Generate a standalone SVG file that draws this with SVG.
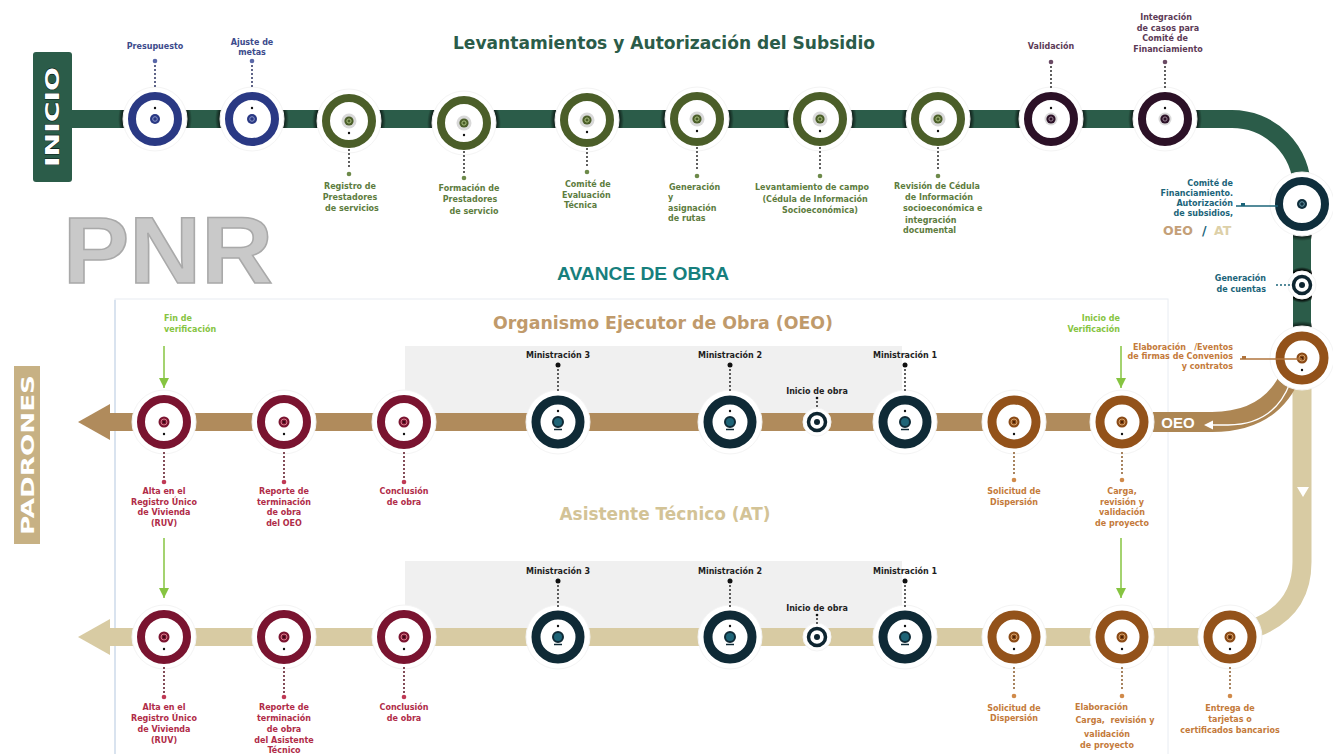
<svg xmlns="http://www.w3.org/2000/svg" width="1333" height="754" viewBox="0 0 1333 754">
<style>
.lbl{font-family:"DejaVu Sans",Verdana,sans-serif;font-weight:bold;font-size:8px;text-anchor:middle}
.st{text-anchor:start}
.en{text-anchor:end}
.navy{fill:#3d4b8c}.olive{fill:#5d7c3e}.purp{fill:#5c3a56}.teal{fill:#1b6479}.maroon{fill:#b02c48}.orange{fill:#c47a3a}.lime{fill:#86c441}.dark{fill:#1e1e1e}
.halo{fill:#fff;stroke:#f4f4f4;stroke-width:1}
.dots{fill:none;stroke-width:2;stroke-linecap:round;stroke-dasharray:0 4}
.title{font-family:"DejaVu Sans",Verdana,sans-serif;font-weight:bold;text-anchor:middle}
.garrow{stroke:#86c441;stroke-width:1.5;fill:none}
</style>
<defs>
<radialGradient id="shade"><stop offset="0.84" stop-color="#000" stop-opacity="0.85"/><stop offset="1" stop-color="#000" stop-opacity="0"/></radialGradient>
<clipPath id="greenClip"><rect x="72" y="110" width="1160" height="18"/><rect x="1293" y="189" width="19" height="160"/></clipPath>
<marker id="gArrow" viewBox="0 0 10 10" refX="10" refY="5" markerWidth="10" markerHeight="10" markerUnits="userSpaceOnUse" orient="auto"><path d="M0 0 L10 5 L0 10 Z" fill="#86c441"/></marker>
<g id="nvy"><circle class="halo" r="32"/><circle r="23" fill="#fff" stroke="#2a3984" stroke-width="8"/><circle r="5" fill="#2a3984"/><circle r="2.3" fill="none" stroke="#8a96c8" stroke-width="1"/><circle cy="-11" r="1.2" fill="#111"/></g>
<g id="olv"><circle class="halo" r="32"/><circle r="23" fill="#fff" stroke="#4b5e29" stroke-width="8"/><circle r="7.5" fill="#c9c9c9" opacity="0.7"/><circle r="4.6" fill="#4b5e29"/><circle r="2.1" fill="none" stroke="#a9bf80" stroke-width="1"/><circle cy="12" r="1.2" fill="#111"/></g>
<g id="prp"><circle class="halo" r="32"/><circle r="23" fill="#fff" stroke="#2c1127" stroke-width="8"/><circle r="6.5" fill="#c9c9c9" opacity="0.7"/><circle r="4.6" fill="#2c1127"/><circle r="2.1" fill="none" stroke="#9a8494" stroke-width="1"/><circle cy="-11" r="1.2" fill="#111"/></g>
<g id="tl"><circle class="halo" r="32"/><circle r="23" fill="#fff" stroke="#0f2e3c" stroke-width="8"/><circle r="5" fill="#0f2e3c"/><circle r="2.3" fill="none" stroke="#6a9aaa" stroke-width="1"/></g>
<g id="mrn"><circle class="halo" r="32"/><circle r="23" fill="#fff" stroke="#7a1430" stroke-width="8"/><circle r="5.5" fill="#7a1430"/><circle r="3" fill="none" stroke="#d87a8a" stroke-width="1"/><circle r="1.3" fill="#3a0a15"/><circle cy="12" r="1.2" fill="#111"/></g>
<g id="min"><circle class="halo" r="32"/><circle r="22" fill="#fff" stroke="#0f2a36" stroke-width="9"/><circle r="5" fill="#1e6477" stroke="#0f2a36" stroke-width="2"/><circle cy="-11" r="1.2" fill="#111"/><path d="M-4 7.5 H4" stroke="#0f2a36" stroke-width="1.5"/></g>
<g id="brn"><circle class="halo" r="32"/><circle r="22" fill="#fff" stroke="#93521a" stroke-width="9"/><circle r="5.5" fill="#8a4a16"/><circle r="3" fill="none" stroke="#d4a06a" stroke-width="1"/><circle r="1.2" fill="#4a2208"/><circle cy="12" r="1.2" fill="#111"/></g>
<g id="sm"><circle class="halo" r="14"/><circle r="8.5" fill="#fff" stroke="#0e2530" stroke-width="3.5"/><circle r="3" fill="#0e2530"/></g>
</defs>

<rect width="1333" height="754" fill="#fff"/>

<!-- background panels -->
<g id="panels">
<rect x="115" y="299" width="1053" height="470" fill="#fff" stroke="#e8ecf2" stroke-width="1"/>
<line x1="115" y1="300" x2="115" y2="754" stroke="#c8d7ea" stroke-width="1.2"/>
<rect x="405" y="346" width="497" height="67" fill="#f0f0f0"/>
<rect x="405" y="561" width="497" height="68" fill="#f0f0f0"/>
</g>

<!-- big labels -->
<g id="titles">
<text x="168" y="283" font-family="'Liberation Sans',Arial,sans-serif" font-weight="bold" font-size="94" fill="#c9c9c9" stroke="#a9a9a9" stroke-width="1.5" text-anchor="middle" textLength="210" lengthAdjust="spacingAndGlyphs">PNR</text>
<text class="title" x="664" y="49" font-size="17" fill="#2b5c49" textLength="422" lengthAdjust="spacingAndGlyphs">Levantamientos y Autorización del Subsidio</text>
<text x="643" y="280" font-family="'Liberation Sans',Arial,sans-serif" font-weight="bold" font-size="18" fill="#177f7d" text-anchor="middle" textLength="172" lengthAdjust="spacingAndGlyphs">AVANCE DE OBRA</text>
<text class="title" x="663" y="329" font-size="17" fill="#c09a6b" textLength="340" lengthAdjust="spacingAndGlyphs">Organismo Ejecutor de Obra (OEO)</text>
<text class="title" x="665" y="520" font-size="17" fill="#d3c396" textLength="211" lengthAdjust="spacingAndGlyphs">Asistente Técnico (AT)</text>
</g>

<!-- start / end boxes -->
<g id="inicio">
<rect x="33" y="52" width="39" height="130" rx="3" fill="#2b5c49"/>
<text transform="translate(59,117) rotate(-90)" font-family="'DejaVu Sans',sans-serif" font-weight="bold" font-size="19" fill="#fff" stroke="#0a1a14" stroke-width="0.8" paint-order="stroke" text-anchor="middle" textLength="100" lengthAdjust="spacingAndGlyphs">INICIO</text>
</g>
<g id="padrones">
<rect x="14" y="366" width="26" height="178" fill="#c7b184"/>
<text transform="translate(34,455) rotate(-90)" font-family="'DejaVu Sans',sans-serif" font-weight="bold" font-size="17" fill="#fff" text-anchor="middle" textLength="160" lengthAdjust="spacingAndGlyphs">PADRONES</text>
</g>

<!-- tracks -->
<g id="tracks" fill="none">
<path d="M1302 370 V562 Q1302 610 1255 628" stroke="#d8cba3" stroke-width="19"/>
<path d="M72 119 H1232 A70 70 0 0 1 1302 189 V345" stroke="#2b5c49" stroke-width="18"/>
<rect x="100" y="413" width="1060" height="18" fill="#b08b5c"/>
<polygon points="78,422 110,404 110,440" fill="#b08b5c"/>
<path d="M1140 422 H1212 Q1272 422 1292 372" stroke="#ad8653" stroke-width="20"/>
<path d="M1212 425 H1228 Q1274 425 1290 383" stroke="#fff" stroke-width="1.3"/>
<polygon points="1204,425 1213,420.5 1213,429.5" fill="#fff"/>
<rect x="100" y="628" width="1140" height="18" fill="#d8cba3"/>
<polygon points="78,637 110,619 110,655" fill="#d8cba3"/>
<polygon points="1297,487 1309,487 1303,497" fill="#fff"/>
<g clip-path="url(#greenClip)" fill="url(#shade)">
<circle cx="155" cy="119" r="37"/><circle cx="252" cy="119" r="37"/><circle cx="349" cy="121" r="37"/><circle cx="464" cy="123" r="37"/><circle cx="587" cy="120" r="37"/><circle cx="697" cy="119" r="37"/><circle cx="820" cy="119" r="37"/><circle cx="938" cy="119" r="37"/><circle cx="1051" cy="119" r="37"/><circle cx="1165" cy="119" r="37"/><circle cx="1302" cy="204" r="37"/><circle cx="1302" cy="285" r="18"/><circle cx="1302" cy="358" r="37"/>
</g>
<text x="1178" y="428" font-family="'Liberation Sans',Arial,sans-serif" font-weight="bold" font-size="15" fill="#fff" text-anchor="middle">OEO</text>
</g>

<!-- top nodes -->
<g id="n-presupuesto"><use href="#nvy" x="155" y="119"/><text class="lbl navy" x="155" y="49">Presupuesto</text></g>
<g id="n-ajuste"><use href="#nvy" x="252" y="119"/><text class="lbl navy" x="252" y="45">Ajuste de</text><text class="lbl navy" x="252" y="55">metas</text></g>
<g id="n-registro"><use href="#olv" x="349" y="121"/><text class="lbl olive" x="350" y="189">Registro de</text><text class="lbl olive" x="350" y="200">Prestadores</text><text class="lbl olive" x="352" y="211">de servicios</text></g>
<g id="n-formacion"><use href="#olv" x="464" y="123"/><text class="lbl olive" x="469" y="191">Formación de</text><text class="lbl olive" x="470" y="202">Prestadores</text><text class="lbl olive" x="474" y="214">de servicio</text></g>
<g id="n-comite-eval"><use href="#olv" x="587" y="120"/><text class="lbl olive st" x="565" y="187">Comité de</text><text class="lbl olive st" x="562" y="198">Evaluación</text><text class="lbl olive st" x="564" y="208">Técnica</text></g>
<g id="n-generacion"><use href="#olv" x="697" y="119"/><text class="lbl olive st" x="669" y="190">Generación</text><text class="lbl olive st" x="668" y="200">y</text><text class="lbl olive st" x="668" y="211">asignación</text><text class="lbl olive st" x="668" y="221">de rutas</text></g>
<g id="n-levantamiento"><use href="#olv" x="820" y="119"/><text class="lbl olive" x="812" y="190">Levantamiento  de campo</text><text class="lbl olive" x="815" y="202">(Cédula  de Información</text><text class="lbl olive" x="820" y="213">Socioeconómica)</text></g>
<g id="n-revision"><use href="#olv" x="938" y="119"/><text class="lbl olive" x="937" y="189">Revisión de Cédula</text><text class="lbl olive st" x="905" y="200">de Información</text><text class="lbl olive st" x="903" y="211">socioeconómica  e</text><text class="lbl olive st" x="905" y="223">integración</text><text class="lbl olive st" x="903" y="233">documental</text></g>
<g id="n-validacion"><use href="#prp" x="1051" y="119"/><text class="lbl purp" x="1051" y="49">Validación</text></g>
<g id="n-integracion"><use href="#prp" x="1165" y="119"/><text class="lbl purp" x="1166" y="20">Integración</text><text class="lbl purp" x="1168" y="31">de casos para</text><text class="lbl purp" x="1165" y="41">Comité de</text><text class="lbl purp" x="1168" y="52">Financiamiento</text></g>

<!-- right column nodes -->
<g id="n-comite-fin"><use href="#tl" x="1302" y="204"/>
<text class="lbl teal en" x="1233" y="186">Comité de</text><text class="lbl teal en" x="1233" y="196">Financiamiento.</text><text class="lbl teal en" x="1233" y="206">Autorización</text><text class="lbl teal en" x="1233" y="216">de subsidios,</text>
<text x="1163" y="235" font-family="'DejaVu Sans',sans-serif" font-weight="bold" font-size="12.5" fill="#c4a078">OEO</text>
<text x="1202" y="235" font-family="'DejaVu Sans',sans-serif" font-weight="bold" font-size="12.5" fill="#1b6479">/</text>
<text x="1214" y="235" font-family="'DejaVu Sans',sans-serif" font-weight="bold" font-size="12.5" fill="#ddd0a8">AT</text></g>
<g id="n-cuentas"><use href="#sm" x="1302" y="285"/><text class="lbl teal en" x="1266" y="281">Generación</text><text class="lbl teal en" x="1266" y="292">de cuentas</text></g>
<g id="n-elaboracion"><use href="#brn" x="1302" y="358"/><text class="lbl orange en" x="1233" y="350" style="white-space:pre">Elaboración   /Eventos</text><text class="lbl orange en" x="1233" y="359">de firmas de Convenios</text><text class="lbl orange en" x="1233" y="369">y contratos</text></g>

<!-- OEO row -->
<g id="n-oeo-ruv"><use href="#mrn" x="164" y="422"/><text class="lbl maroon" x="164" y="494">Alta en el</text><text class="lbl maroon" x="164" y="505">Registro Único</text><text class="lbl maroon" x="164" y="515">de Vivienda</text><text class="lbl maroon" x="164" y="526">(RUV)</text></g>
<g id="n-oeo-reporte"><use href="#mrn" x="284" y="422"/><text class="lbl maroon" x="284" y="494">Reporte de</text><text class="lbl maroon" x="284" y="505">terminación</text><text class="lbl maroon" x="284" y="515">de obra</text><text class="lbl maroon" x="284" y="526">del OEO</text></g>
<g id="n-oeo-conclusion"><use href="#mrn" x="404" y="422"/><text class="lbl maroon" x="404" y="494">Conclusión</text><text class="lbl maroon" x="404" y="505">de obra</text></g>
<g id="n-oeo-min3"><use href="#min" x="558" y="422"/><text class="lbl dark" x="558" y="358">Ministración  3</text></g>
<g id="n-oeo-min2"><use href="#min" x="730" y="422"/><text class="lbl dark" x="730" y="358">Ministración  2</text></g>
<g id="n-oeo-inicio"><use href="#sm" x="817" y="422"/><text class="lbl dark" x="817" y="394">Inicio de obra</text></g>
<g id="n-oeo-min1"><use href="#min" x="905" y="422"/><text class="lbl dark" x="905" y="358">Ministración  1</text></g>
<g id="n-oeo-solicitud"><use href="#brn" x="1014" y="422"/><text class="lbl orange" x="1014" y="494">Solicitud de</text><text class="lbl orange" x="1014" y="505">Dispersión</text></g>
<g id="n-oeo-carga"><use href="#brn" x="1122" y="422"/><text class="lbl orange" x="1122" y="494">Carga,</text><text class="lbl orange" x="1122" y="505">revisión y</text><text class="lbl orange" x="1122" y="515">validación</text><text class="lbl orange" x="1122" y="526">de proyecto</text></g>

<!-- AT row -->
<g id="n-at-ruv"><use href="#mrn" x="164" y="637"/><text class="lbl maroon" x="164" y="710">Alta en el</text><text class="lbl maroon" x="164" y="721">Registro Único</text><text class="lbl maroon" x="164" y="732">de Vivienda</text><text class="lbl maroon" x="164" y="743">(RUV)</text></g>
<g id="n-at-reporte"><use href="#mrn" x="284" y="637"/><text class="lbl maroon" x="284" y="710">Reporte de</text><text class="lbl maroon" x="284" y="721">terminación</text><text class="lbl maroon" x="284" y="732">de obra</text><text class="lbl maroon" x="284" y="743">del Asistente</text><text class="lbl maroon" x="284" y="753">Técnico</text></g>
<g id="n-at-conclusion"><use href="#mrn" x="404" y="637"/><text class="lbl maroon" x="404" y="710">Conclusión</text><text class="lbl maroon" x="404" y="721">de obra</text></g>
<g id="n-at-min3"><use href="#min" x="558" y="637"/><text class="lbl dark" x="558" y="574">Ministración  3</text></g>
<g id="n-at-min2"><use href="#min" x="730" y="637"/><text class="lbl dark" x="730" y="574">Ministración  2</text></g>
<g id="n-at-inicio"><use href="#sm" x="817" y="637"/><text class="lbl dark" x="817" y="611">Inicio de obra</text></g>
<g id="n-at-min1"><use href="#min" x="905" y="637"/><text class="lbl dark" x="905" y="574">Ministración  1</text></g>
<g id="n-at-solicitud"><use href="#brn" x="1014" y="637"/><text class="lbl orange" x="1014" y="711">Solicitud de</text><text class="lbl orange" x="1014" y="721">Dispersión</text></g>
<g id="n-at-carga"><use href="#brn" x="1122" y="637"/><text class="lbl orange st" x="1075" y="710">Elaboración</text><text class="lbl orange" x="1115" y="723" style="white-space:pre">Carga,  revisión y</text><text class="lbl orange" x="1107" y="737">validación</text><text class="lbl orange" x="1107" y="748">de proyecto</text></g>
<g id="n-at-entrega"><use href="#brn" x="1230" y="637"/><text class="lbl orange" x="1230" y="711">Entrega de</text><text class="lbl orange" x="1230" y="722">tarjetas o</text><text class="lbl orange" x="1230" y="733">certificados bancarios</text></g>

<!-- verification labels -->
<g id="verif">
<text class="lbl lime st" x="164" y="321">Fin de</text><text class="lbl lime st" x="164" y="332">verificación</text>
<text class="lbl lime en" x="1120" y="321">Inicio de</text><text class="lbl lime en" x="1120" y="332">Verificación</text>
</g>

<!-- connectors -->
<g id="connectors">
<g class="dots" stroke="#2a3060">
<line x1="155" y1="66" x2="155" y2="90"/><line x1="252" y1="66" x2="252" y2="90"/>
</g>
<g class="dots" stroke="#2a2a2a">
<line x1="349" y1="150" x2="349" y2="170"/><line x1="464" y1="152" x2="464" y2="174"/><line x1="587" y1="149" x2="587" y2="168"/><line x1="697" y1="148" x2="697" y2="172"/><line x1="820" y1="148" x2="820" y2="172"/><line x1="938" y1="148" x2="938" y2="172"/>
<line x1="1051" y1="67" x2="1051" y2="90"/><line x1="1165" y1="67" x2="1165" y2="90"/>
<line x1="558" y1="370" x2="558" y2="394"/><line x1="730" y1="370" x2="730" y2="394"/><line x1="905" y1="370" x2="905" y2="394"/>
<line x1="558" y1="586" x2="558" y2="609"/><line x1="730" y1="586" x2="730" y2="609"/><line x1="905" y1="586" x2="905" y2="609"/>
</g>
<g class="dots" stroke="#2a2a2a" stroke-width="1.3" stroke-dasharray="0 2.5">
<line x1="817" y1="398" x2="817" y2="410"/><line x1="817" y1="615" x2="817" y2="625"/>
</g>
<g class="dots" stroke="#5a1020">
<line x1="164" y1="453" x2="164" y2="478"/><line x1="284" y1="453" x2="284" y2="478"/><line x1="404" y1="453" x2="404" y2="478"/>
<line x1="164" y1="668" x2="164" y2="693"/><line x1="284" y1="668" x2="284" y2="693"/><line x1="404" y1="668" x2="404" y2="693"/>
</g>
<g class="dots" stroke="#8a5a2a">
<line x1="1014" y1="453" x2="1014" y2="476"/><line x1="1122" y1="453" x2="1122" y2="476"/>
<line x1="1014" y1="668" x2="1014" y2="692"/><line x1="1122" y1="668" x2="1122" y2="692"/><line x1="1230" y1="668" x2="1230" y2="692"/>
</g>
<line class="dots" x1="1277" y1="285" x2="1290" y2="285" stroke="#1b6479" stroke-width="1.5" stroke-dasharray="0 3"/>
<g fill="#5a68a8"><circle cx="155" cy="61" r="2.3"/><circle cx="252" cy="61" r="2.3"/></g>
<g fill="#6d8a4a"><circle cx="349" cy="174" r="2.3"/><circle cx="464" cy="178" r="2.3"/><circle cx="587" cy="172" r="2.3"/><circle cx="697" cy="176" r="2.3"/><circle cx="820" cy="176" r="2.3"/><circle cx="938" cy="176" r="2.3"/></g>
<g fill="#6a4a64"><circle cx="1051" cy="62" r="2.3"/><circle cx="1165" cy="62" r="2.3"/></g>
<g fill="#111"><circle cx="558" cy="365" r="2.5"/><circle cx="730" cy="365" r="2.5"/><circle cx="905" cy="365" r="2.5"/><circle cx="558" cy="581" r="2.5"/><circle cx="730" cy="581" r="2.5"/><circle cx="905" cy="581" r="2.5"/><circle cx="817" cy="398" r="1.3"/><circle cx="817" cy="615" r="1.3"/></g>
<g fill="#c03a55"><circle cx="164" cy="482" r="2.3"/><circle cx="284" cy="482" r="2.3"/><circle cx="404" cy="482" r="2.3"/><circle cx="164" cy="697" r="2.3"/><circle cx="284" cy="697" r="2.3"/><circle cx="404" cy="697" r="2.3"/></g>
<g fill="#d08a4a"><circle cx="1014" cy="480" r="2.3"/><circle cx="1122" cy="480" r="2.3"/><circle cx="1014" cy="696" r="2.3"/><circle cx="1122" cy="696" r="2.3"/><circle cx="1230" cy="696" r="2.3"/></g>
<line x1="1236" y1="206" x2="1278" y2="206" stroke="#1b6479" stroke-width="1.5"/>
<rect x="1241" y="203" width="4" height="3" fill="#1b6479"/>
<line x1="1240" y1="359" x2="1302" y2="359" stroke="#b0743c" stroke-width="1.5"/>
<rect x="1242" y="356" width="4" height="3" fill="#b0743c"/>
<line class="garrow" x1="164" y1="346" x2="164" y2="388" marker-end="url(#gArrow)"/>
<line class="garrow" x1="1121" y1="346" x2="1121" y2="388" marker-end="url(#gArrow)"/>
<line class="garrow" x1="164" y1="538" x2="164" y2="598" marker-end="url(#gArrow)"/>
<line class="garrow" x1="1121" y1="538" x2="1121" y2="598" marker-end="url(#gArrow)"/>
</g>
</svg>
